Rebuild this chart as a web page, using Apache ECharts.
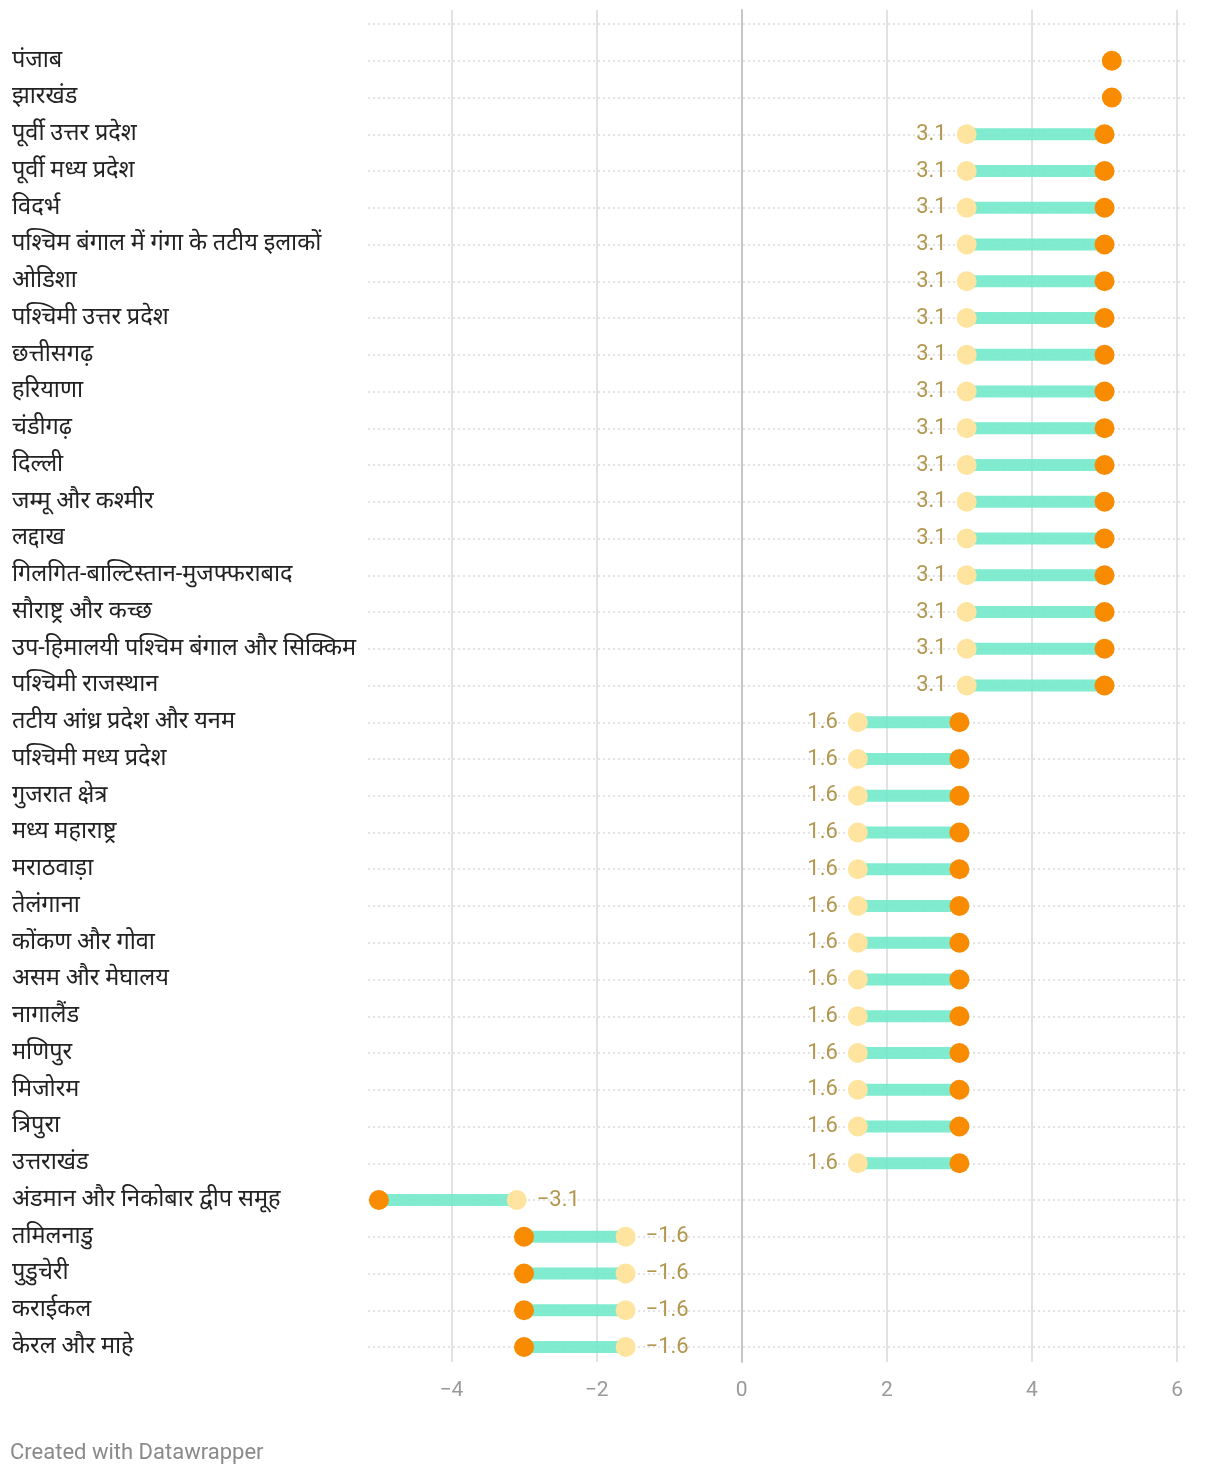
<!DOCTYPE html>
<html>
<head>
<meta charset="utf-8">
<script src="https://cdn.jsdelivr.net/npm/echarts@6/dist/echarts.min.js"></script>
<style>
html,body{margin:0;padding:0;background:#fff;}
#chart{width:1220px;height:1476px;}
</style>
</head>
<body>
<div id="chart"></div>
<script>
const categories = [
  'पंजाब','झारखंड','पूर्वी उत्तर प्रदेश','पूर्वी मध्य प्रदेश','विदर्भ',
  'पश्चिम बंगाल में गंगा के तटीय इलाकों','ओडिशा','पश्चिमी उत्तर प्रदेश','छत्तीसगढ़','हरियाणा',
  'चंडीगढ़','दिल्ली','जम्मू और कश्मीर','लद्दाख','गिलगित-बाल्टिस्तान-मुजफ्फराबाद',
  'सौराष्ट्र और कच्छ','उप-हिमालयी पश्चिम बंगाल और सिक्किम','पश्चिमी राजस्थान','तटीय आंध्र प्रदेश और यनम','पश्चिमी मध्य प्रदेश',
  'गुजरात क्षेत्र','मध्य महाराष्ट्र','मराठवाड़ा','तेलंगाना','कोंकण और गोवा',
  'असम और मेघालय','नागालैंड','मणिपुर','मिजोरम','त्रिपुरा',
  'उत्तराखंड','अंडमान और निकोबार द्वीप समूह','तमिलनाडु','पुडुचेरी','कराईकल',
  'केरल और माहे'
];
// light (start) values
const startValues = [
  null, null, 3.1, 3.1, 3.1, 3.1, 3.1, 3.1, 3.1, 3.1,
  3.1, 3.1, 3.1, 3.1, 3.1, 3.1, 3.1, 3.1, 1.6, 1.6,
  1.6, 1.6, 1.6, 1.6, 1.6, 1.6, 1.6, 1.6, 1.6, 1.6,
  1.6, -3.1, -1.6, -1.6, -1.6, -1.6
];
// orange (end) values
const endValues = [
  5.1, 5.1, 5.0, 5.0, 5.0, 5.0, 5.0, 5.0, 5.0, 5.0,
  5.0, 5.0, 5.0, 5.0, 5.0, 5.0, 5.0, 5.0, 3.0, 3.0,
  3.0, 3.0, 3.0, 3.0, 3.0, 3.0, 3.0, 3.0, 3.0, 3.0,
  3.0, -5.0, -3.0, -3.0, -3.0, -3.0
];
const xTickValues = [-4, -2, 0, 2, 4, 6];

const fmt = v => (v < 0 ? '\u2212' + Math.abs(v) : String(v));
const FONT = 'Roboto, "Noto Sans", sans-serif';

const yCats = [''].concat(categories);

const barData = [];
const lightData = [];
const orangeData = [];
categories.forEach((c, i) => {
  const s = startValues[i], e = endValues[i];
  if (s !== null && e !== null) barData.push([s, e, i + 1]);
  if (s !== null) lightData.push({
    value: [s, i + 1],
    label: { position: s < e ? 'left' : 'right' }
  });
  if (e !== null) orangeData.push([e, i + 1]);
});

const chart = echarts.init(document.getElementById('chart'), null, { renderer: 'canvas' });
chart.setOption({
  animation: false,
  backgroundColor: '#fff',
  title: {
    text: 'Created with Datawrapper',
    left: 5, top: 1437,
    textStyle: { fontFamily: FONT, fontSize: 22, fontWeight: 'normal', color: '#8a8a8a' }
  },
  grid: [
    { left: 368, right: 32, top: 10, bottom: 114 },
    { left: 368, right: 32, top: 24, bottom: 129 }
  ],
  xAxis: [
    {
      type: 'value', gridIndex: 0, min: -5.15, max: 6.15,
      minInterval: 2, maxInterval: 2,
      axisLine: { show: false }, axisTick: { show: false },
      axisLabel: {
        showMinLabel: false, showMaxLabel: false, margin: 18,
        fontFamily: FONT, fontSize: 21, color: '#9a9a9a',
        formatter: v => (xTickValues.indexOf(v) >= 0 ? fmt(v) : '')
      },
      splitLine: { show: true, showMinLine: false, showMaxLine: false,
        lineStyle: { color: '#e2e2e2', width: 2 } }
    },
    {
      type: 'value', gridIndex: 1, min: -5.15, max: 6.15, show: false,
      splitLine: { show: false }
    }
  ],
  yAxis: [
    {
      type: 'value', gridIndex: 0, min: 0, max: 1,
      axisLabel: { show: false }, axisTick: { show: false },
      splitLine: { show: false },
      axisLine: { show: true, onZero: true, lineStyle: { color: '#c6c6c6', width: 2 } }
    },
    {
      type: 'category', gridIndex: 1, data: yCats, inverse: true, boundaryGap: false,
      axisLine: { show: false }, axisTick: { show: false },
      axisLabel: { interval: 0, align: 'left', margin: 356,
        fontFamily: FONT, fontSize: 23.5, color: '#222', padding: [7, 0, 0, 0] },
      splitLine: { show: true, interval: 0,
        lineStyle: { color: '#dcdcdc', width: 1.5, type: [2, 3] } }
    }
  ],
  series: [
    {
      type: 'custom', xAxisIndex: 1, yAxisIndex: 1, data: barData,
      encode: { x: [0, 1], y: 2 },
      renderItem: (params, api) => {
        const a = api.coord([api.value(0), api.value(2)]);
        const b = api.coord([api.value(1), api.value(2)]);
        const h = 12;
        return {
          type: 'rect',
          shape: { x: Math.min(a[0], b[0]), y: a[1] - h / 2, width: Math.abs(b[0] - a[0]), height: h },
          style: { fill: '#6ee8c8', opacity: 0.88 }
        };
      },
      z: 2
    },
    {
      type: 'scatter', xAxisIndex: 1, yAxisIndex: 1, data: lightData,
      symbolSize: 20, itemStyle: { color: '#fee49e', opacity: 1 },
      label: { show: true, distance: 10, fontFamily: FONT, fontSize: 22, color: '#b3974f',
        padding: [5, 0, 0, 0], formatter: p => fmt(p.value[0]) },
      z: 3
    },
    {
      type: 'scatter', xAxisIndex: 1, yAxisIndex: 1, data: orangeData,
      symbolSize: 20, itemStyle: { color: '#f98b00', opacity: 1 },
      z: 4
    }
  ]
});
</script>
</body>
</html>
